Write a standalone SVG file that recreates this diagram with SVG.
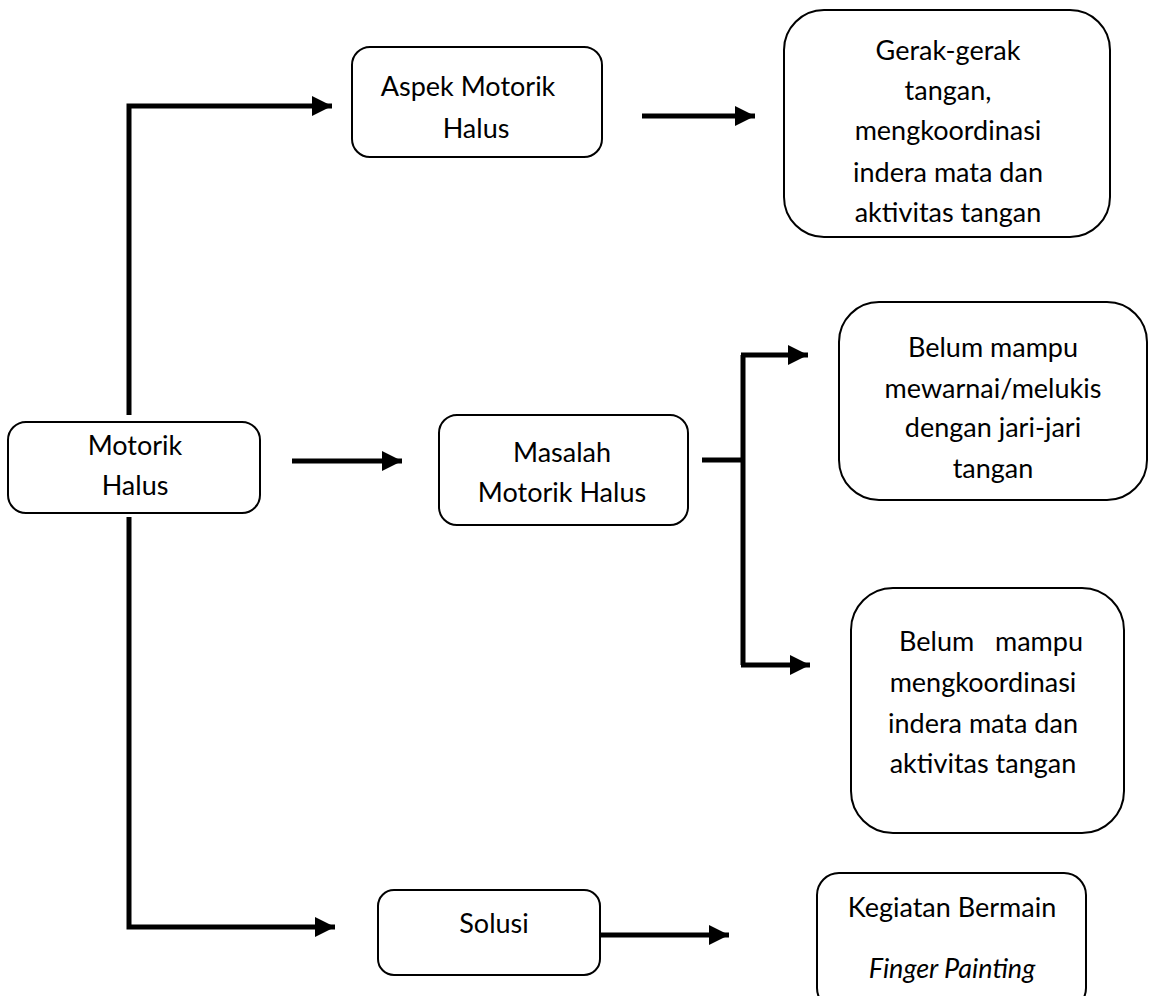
<svg xmlns="http://www.w3.org/2000/svg" width="1152" height="996" viewBox="0 0 1152 996">
<style>
.box{fill:#fff;stroke:#000;stroke-width:2}
.ln{fill:none;stroke:#000;stroke-width:5}
.t{font-family:Lato,"Liberation Sans",sans-serif;font-size:27px;fill:#000;text-anchor:middle}
</style>
<defs>
<marker id="ah" markerWidth="4" markerHeight="4" refX="4" refY="2" orient="auto" markerUnits="strokeWidth">
<path d="M0,0 L4,2 L0,4 Z" fill="#000"/>
</marker>
</defs>
<rect width="1152" height="996" fill="#fff"/>
<g id="connectors">
<path class="ln" d="M129,415 V106 H332" marker-end="url(#ah)"/>
<path class="ln" d="M129,517 V927 H335" marker-end="url(#ah)"/>
<path class="ln" d="M292,461 H402" marker-end="url(#ah)"/>
<path class="ln" d="M642,116 H755" marker-end="url(#ah)"/>
<path class="ln" d="M702,460 H743"/>
<path class="ln" d="M743,355 V665"/>
<path class="ln" d="M741,355 H808" marker-end="url(#ah)"/>
<path class="ln" d="M741,665 H810" marker-end="url(#ah)"/>
<path class="ln" d="M600,935 H729" marker-end="url(#ah)"/>
</g>
<g id="motorik-halus">
<rect class="box" x="8" y="422" width="252" height="91" rx="18"/>
<text class="t" x="135" y="455">Motorik</text>
<text class="t" x="135" y="495">Halus</text>
</g>
<g id="aspek">
<rect class="box" x="352" y="47" width="250" height="110" rx="18"/>
<text class="t" x="468" y="96">Aspek Motorik</text>
<text class="t" x="476" y="138">Halus</text>
</g>
<g id="gerak">
<rect class="box" x="784" y="10" width="326" height="227" rx="40"/>
<text class="t" x="948" y="60">Gerak-gerak</text>
<text class="t" x="948" y="100">tangan,</text>
<text class="t" x="948" y="140">mengkoordinasi</text>
<text class="t" x="948" y="182">indera mata dan</text>
<text class="t" x="948" y="222">aktivitas tangan</text>
</g>
<g id="masalah">
<rect class="box" x="439" y="415" width="249" height="110" rx="18"/>
<text class="t" x="562" y="462">Masalah</text>
<text class="t" x="562" y="502">Motorik Halus</text>
</g>
<g id="belum1">
<rect class="box" x="839" y="302" width="308" height="198" rx="40"/>
<text class="t" x="993" y="357">Belum mampu</text>
<text class="t" x="993" y="398">mewarnai/melukis</text>
<text class="t" x="993" y="437">dengan jari-jari</text>
<text class="t" x="993" y="478">tangan</text>
</g>
<g id="belum2">
<rect class="box" x="851" y="588" width="273" height="245" rx="42"/>
<text class="t" x="899" y="651" style="text-anchor:start">Belum</text>
<text class="t" x="1083" y="651" style="text-anchor:end">mampu</text>
<text class="t" x="983" y="692">mengkoordinasi</text>
<text class="t" x="983" y="733">indera mata dan</text>
<text class="t" x="983" y="773">aktivitas tangan</text>
</g>
<g id="solusi">
<rect class="box" x="378" y="890" width="222" height="85" rx="16"/>
<text class="t" x="494" y="933">Solusi</text>
</g>
<g id="kegiatan">
<rect class="box" x="817" y="873" width="269" height="137" rx="22"/>
<text class="t" x="952" y="917">Kegiatan Bermain</text>
<text class="t" x="952" y="978" font-style="italic">Finger Painting</text>
</g>
</svg>
